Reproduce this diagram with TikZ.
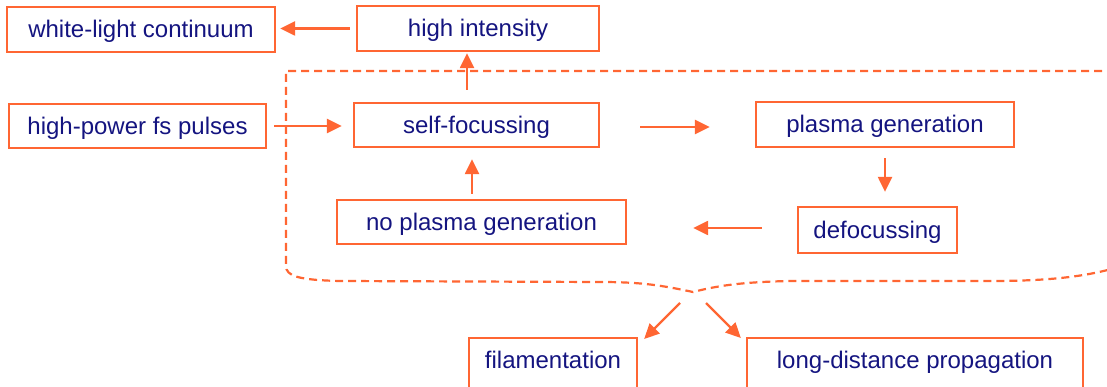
\documentclass[tikz,border=0pt]{standalone}
\usepackage{fontspec}
\setmainfont{Liberation Sans}
\usetikzlibrary{arrows.meta,calc}
\definecolor{orng}{RGB}{255,102,51}
\definecolor{navytext}{RGB}{20,20,128}
\begin{document}
\begin{tikzpicture}[x=1pt,y=-1pt,
  box/.style={draw=orng, line width=2.3pt, text=navytext, font=\fontsize{24}{28}\selectfont,
    inner xsep=0pt, inner ysep=10.75pt, text height=19.5pt, text depth=3pt, minimum height=44pt},
  arr/.style={draw=orng, line width=2.3pt, -{Triangle[length=15pt,width=14pt]}},
  brace/.style={draw=orng, line width=2.2pt, dash pattern=on 8pt off 5pt}
]
\useasboundingbox (0,0) rectangle (1107,387);
\clip (0,0) rectangle (1107,387);

% nodes
\node[box, minimum width=268pt, minimum height=45pt] (wlc) at (141,29.5) {white-light continuum};
\node[box, minimum width=242pt, minimum height=45pt] (hi) at (478,28.5) {high intensity};
\node[box, minimum width=257pt] (hpfp) at (137.5,126) {high-power fs pulses};
\node[box, minimum width=245pt] (sf) at (476.5,125) {self-focussing};
\node[box, minimum width=258pt, minimum height=45pt] (pg) at (885,124.5) {plasma generation};
\node[box, minimum width=289pt] (npg) at (481.5,222) {no plasma generation};
\node[box, minimum width=159pt, minimum height=46pt] (de) at (877.5,230) {defocussing};
\node[box, minimum width=168pt, text depth=50pt, anchor=north] (fil) at (553,337) {filamentation};
\node[box, minimum width=336pt, text depth=50pt, anchor=north] (ldp) at (915,337) {long-distance propagation};

% dashed brace
\coordinate (tip) at (693,292);
\draw[brace] (1115,71) -- (286,71) -- (286,266)
  .. controls (286,276) and (298,280) .. (340,281) -- (600,282)
  .. controls (640,282) and (660,285) .. (tip)
  .. controls (720,285) and (745,282) .. (790,281) -- (990,281)
  .. controls (1040,281) and (1080,278) .. (1115,268);

% connectors
\draw[arr, shorten <=6pt, shorten >=4pt] (hi.west) -- (hi.west -| wlc.east);
\draw[arr, shorten <=7pt, shorten >=11pt] (hpfp.east) -- (hpfp.east -| sf.west);
\draw[arr, shorten <=12pt, shorten >=1pt] ([xshift=-9.5pt]sf.north) -- ([xshift=-9.5pt]sf.north |- hi.south);
\draw[arr, shorten <=40pt, shorten >=45pt] ([yshift=-2pt]sf.east) -- ([yshift=-2pt]sf.east -| pg.west);
\draw[arr, shorten <=10pt, shorten >=14pt] (pg.south) -- (pg.south |- de.north);
\draw[arr, shorten <=35pt, shorten >=66pt] ([yshift=2pt]de.west) -- ([yshift=2pt]de.west -| npg.east);
\draw[arr, shorten <=5pt, shorten >=11pt] ([xshift=-9.5pt]npg.north) -- ([xshift=-9.5pt]npg.north |- sf.south);

\coordinate (b1) at (680,303);
\coordinate (b2) at (706,303);
\draw[arr] (b1) -- ([shift={(6pt,-2pt)}]fil.north east);
\draw[arr] (b2) -- ([shift={(-5pt,-1pt)}]ldp.north west);
\end{tikzpicture}
\end{document}
